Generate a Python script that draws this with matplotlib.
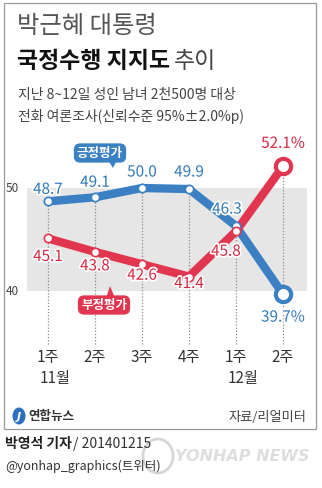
import numpy as np
import matplotlib
matplotlib.use("Agg")
import matplotlib.pyplot as plt
import matplotlib.patheffects as pe
from matplotlib.patches import Rectangle, Polygon, Ellipse

plt.rcParams['font.family'] = ['Noto Sans CJK KR', 'DejaVu Sans']

# data
weeks = ["1주", "2주", "3주", "4주", "1주", "2주"]
months = {0: "11월", 4: "12월"}
positive = [48.7, 49.1, 50.0, 49.9, 46.3, 39.7]
negative = [45.1, 43.8, 42.6, 41.4, 45.8, 52.1]

BLUE = "#3b80c2"
BLUE_T = "#2f78ba"
RED = "#e2354f"
RED_T = "#d8263f"

W, H = 322, 489
fig = plt.figure(figsize=(W / 100, H / 100), dpi=100)


def P(x, y):
    # pixel (from top-left) -> figure fraction
    return x / W, 1 - y / H


# outer frame
fig.patches.append(Rectangle(P(4, 430), 312 / W, 426 / H, transform=fig.transFigure,
                             fill=False, ec="#9a9a9a", lw=0.9))

# titles
fig.text(*P(17, 26), "박근혜 대통령", fontsize=17.5, color="#555555", va="center", weight="light")
fig.text(*P(17, 62), "국정수행 지지도", fontsize=16.5, color="#111111", va="center", weight="bold")
fig.text(*P(174, 62), "추이", fontsize=16.5, color="#444444", va="center", weight="light")
fig.text(*P(18, 95), "지난 8~12일 성인 남녀 2천500명 대상", fontsize=10, color="#444444", va="center")
fig.text(*P(18, 116), "전화 여론조사(신뢰수준 95%±2.0%p)", fontsize=10, color="#444444", va="center")

# chart axes: x index -> pixels 48..283, y 50 -> 189px, 40 -> 292px
ax = fig.add_axes([27 / W, 1 - 350 / H, 280 / W, 210 / H])
ax.set_xlim(-21 / 47, 5 + 24 / 47)
ax.set_ylim(50 - (350 - 189) / 10.3, 50 + 49 / 10.3)
ax.axis("off")
ax.axhspan(40, 50, color="#e6e6e6", lw=0, zorder=0)

x = np.arange(len(weeks))
bottom = 50 - (345 - 189) / 10.3
tops = np.maximum(positive, negative)
ax.vlines(x, bottom, tops, colors="#8a8a8a", linestyles=(0, (1, 1.5)), lw=0.9, zorder=1)

ax.plot(x, positive, color=BLUE, lw=6, solid_capstyle="round", solid_joinstyle="round", zorder=2)
ax.plot(x, negative, color=RED, lw=6, solid_capstyle="round", solid_joinstyle="round", zorder=3)
ax.plot(x[:-1], positive[:-1], "o", ms=6, mfc="white", mec=BLUE, mew=1.2, zorder=4)
ax.plot(x[:-1], negative[:-1], "o", ms=6, mfc="white", mec=RED, mew=1.2, zorder=4)
ax.plot(x[-1:], positive[-1:], "o", ms=11, mfc="white", mec=BLUE, mew=3, zorder=5)
ax.plot(x[-1:], negative[-1:], "o", ms=11, mfc="white", mec=RED, mew=3, zorder=5)

# value labels: offsets in pixels (dx, dy downwards)
pos_off = [(0, -12), (0, -15), (0, -16), (0, -17), (-9, -17), (0, 23)]
neg_off = [(0, 18), (0, 14), (0, 11), (0, 7), (-10, 20), (0, -23)]
halo = [pe.withStroke(linewidth=2.5, foreground="white")]
for i in range(len(weeks)):
    t = f"{positive[i]:.1f}" + ("%" if i == len(weeks) - 1 else "")
    ax.annotate(t, (x[i], positive[i]), xytext=(pos_off[i][0] * 0.72, -pos_off[i][1] * 0.72),
                textcoords="offset points", ha="center", va="center", fontsize=11,
                color=BLUE_T, zorder=6, path_effects=halo)
    t = f"{negative[i]:.1f}" + ("%" if i == len(weeks) - 1 else "")
    ax.annotate(t, (x[i], negative[i]), xytext=(neg_off[i][0] * 0.72, -neg_off[i][1] * 0.72),
                textcoords="offset points", ha="center", va="center", fontsize=11,
                color=RED_T, zorder=6, path_effects=halo)

# axis values
fig.text(*P(6, 189), "50", fontsize=8.5, color="#444444", va="center")
fig.text(*P(6, 292), "40", fontsize=8.5, color="#444444", va="center")

# series tags
fig.text(*P(100, 154), "긍정평가", fontsize=9, weight="bold", color="white", ha="center", va="center",
         bbox=dict(boxstyle="round,pad=0.25,rounding_size=0.5", fc=BLUE, ec="none"))
fig.patches.append(Polygon([P(108, 161), P(117, 161), P(113, 169)], closed=True,
                           transform=fig.transFigure, fc=BLUE, ec="none"))
fig.text(*P(104, 306), "부정평가", fontsize=9, weight="bold", color="white", ha="center", va="center",
         bbox=dict(boxstyle="round,pad=0.25,rounding_size=0.5", fc=RED, ec="none"))
fig.patches.append(Polygon([P(106, 299), P(115, 299), P(110, 287)], closed=True,
                           transform=fig.transFigure, fc=RED, ec="none"))

# week / month labels
for i, w in enumerate(weeks):
    xf = (27 + (x[i] + 21 / 47) * 47) / W
    fig.text(xf, 1 - 358 / H, w, fontsize=11, color="#333333", ha="center", va="center")
    if i in months:
        fig.text(xf - 8 / W, 1 - 379 / H, months[i], fontsize=11, color="#333333", ha="left", va="center")

# footer inside frame
fig.patches.append(Ellipse(P(19, 417), 13 / W, 17 / H, transform=fig.transFigure, fc="#2e6fc0", ec="none"))
fig.text(*P(19, 417), "J", fontsize=8, color="white", ha="center", va="center", weight="bold", style="italic",
         family="DejaVu Sans")
fig.text(*P(28, 417), "연합뉴스", fontsize=9, weight="bold", color="#333333", va="center")
fig.text(*P(306, 418), "자료/리얼미터", fontsize=9.5, color="#444444", va="center", ha="right")

# credits
fig.text(*P(5, 444), "박영석 기자", fontsize=10, weight="bold", color="#222222", va="center")
fig.text(*P(73, 444), "/ 201401215", fontsize=10, color="#333333", va="center")
fig.text(*P(5, 466), "@yonhap_graphics(트위터)", fontsize=9, color="#333333", va="center")

# watermark
fig.patches.append(Ellipse(P(158, 457), 30 / W, 34 / H, transform=fig.transFigure,
                           fill=False, ec="#d6d6d6", lw=2))
fig.text(*P(175, 457), "YONHAP NEWS", fontsize=11.5, weight="bold", style="italic",
         color="#dedede", va="center", family="DejaVu Sans")

fig.savefig("out.png", dpi=100)
